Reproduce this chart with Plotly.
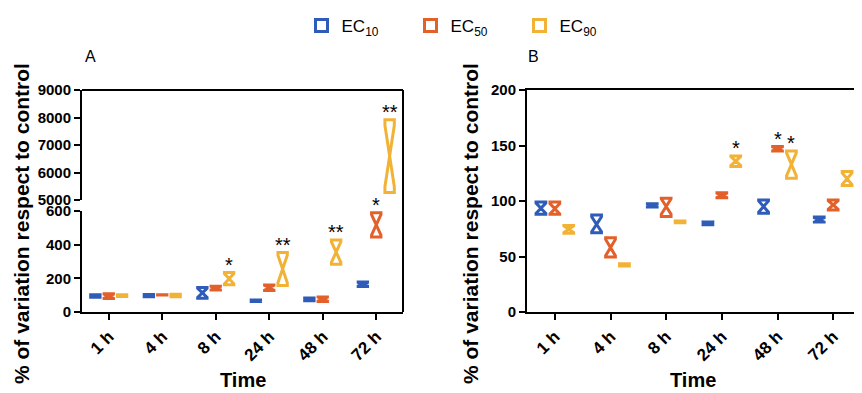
import plotly.graph_objects as go

# ---------------- data ----------------
times = ["1 h", "4 h", "8 h", "24 h", "48 h", "72 h"]
series_names = ["EC<sub>10</sub>", "EC<sub>50</sub>", "EC<sub>90</sub>"]
colors = ["#2E5CB8", "#E4602B", "#F2B236"]

# Panel A (% of variation respect to control)
A_ec10_q1 = [88, 90, 82, 63, 67, 152]
A_ec10_med = [95, 97, 114, 67, 74, 165]
A_ec10_q3 = [103, 104, 146, 71, 83, 178]

A_ec50_q1 = [80, 101, 130, 127, 62, 445]
A_ec50_med = [94, 102, 142, 144, 76, 518]
A_ec50_q3 = [108, 103, 153, 161, 89, 590]

A_ec90_q1 = [92, 90, 162, 158, 283, 5270]
A_ec90_med = [98, 98, 198, 255, 356, 6600]
A_ec90_q3 = [103, 105, 234, 353, 428, 7915]

# Panel B
B_ec10_q1 = [88, 71.5, 94.5, 78.5, 89, 81]
B_ec10_med = [93.5, 79, 96, 80, 95, 83]
B_ec10_q3 = [99, 87.5, 97.5, 81, 101, 85.5]

B_ec50_q1 = [88, 49.5, 86, 103, 145, 92]
B_ec50_med = [93, 58, 95, 105, 147, 96.5]
B_ec50_q3 = [99, 67, 102.5, 107.5, 149, 101]

B_ec90_q1 = [71, 41.5, 80.5, 131, 120.5, 114]
B_ec90_med = [74.5, 42.5, 81.3, 136, 133, 120]
B_ec90_q3 = [78, 43.5, 82, 140.5, 145, 126.5]

# significance marks: (category index, series index, label)
A_marks = [(2, 2, "*"), (3, 2, "**"), (4, 2, "**"), (5, 1, "*"), (5, 2, "**")]
B_marks = [(3, 2, "*"), (4, 1, "*"), (4, 2, "*")]

A_tick_low = [0, 200, 400, 600]
A_tick_high = [5000, 6000, 7000, 8000, 9000]
B_ticks = [0, 50, 100, 150, 200]

# ---------------- figure ----------------
A_series = [(A_ec10_q1, A_ec10_med, A_ec10_q3),
            (A_ec50_q1, A_ec50_med, A_ec50_q3),
            (A_ec90_q1, A_ec90_med, A_ec90_q3)]
B_series = [(B_ec10_q1, B_ec10_med, B_ec10_q3),
            (B_ec50_q1, B_ec50_med, B_ec50_q3),
            (B_ec90_q1, B_ec90_med, B_ec90_q3)]

fig = go.Figure()
LW = 3


def add_boxes(series, xa, ya, legend):
    for i, (q1, med, q3) in enumerate(series):
        fig.add_trace(go.Box(
            x=times, q1=q1, median=med, q3=q3,
            lowerfence=q1, upperfence=q3,
            notched=True, notchwidth=0.5,
            notchspan=[(b - a) * 0.42 for a, b in zip(q1, q3)],
            name=series_names[i], legendgroup=str(i), showlegend=legend,
            offsetgroup=str(i),
            line=dict(color=colors[i], width=LW), fillcolor="white",
            whiskerwidth=0, boxpoints=False,
            xaxis=xa, yaxis=ya, hoverinfo="skip",
        ))


add_boxes(A_series, "x", "y", True)
add_boxes(A_series, "x2", "y2", False)
add_boxes(B_series, "x3", "y3", False)

# page offset (body margin) compensation: figure drawn from (8, 8)
OFF = 8
W, H = 862 - OFF, 393 - OFF


def px(X):
    return (X - OFF) / W


def py(Y):
    return 1 - (Y - OFF) / H


xa_dom = [px(82), px(403)]
xb_dom = [px(527), px(861)]
y_low = [py(312), py(211)]
y_high = [py(200), py(90)]
y_b = [py(312), py(90)]

tickfont_y = dict(family="Liberation Sans", size=15, color="black", weight="bold")
tickfont_x = dict(family="Liberation Sans", size=17, color="black", weight="bold")
axis_common = dict(showline=True, linewidth=2, linecolor="black", ticks="outside",
                   tickwidth=2, ticklen=6, tickcolor="black", showgrid=False,
                   zeroline=False, automargin=False)

fig.update_layout(
    width=W, height=H, margin=dict(l=0, r=0, t=0, b=0, autoexpand=False),
    plot_bgcolor="white", paper_bgcolor="white",
    boxmode="group", boxgap=0.25, boxgroupgap=0.3,
    font=dict(family="Liberation Sans", color="black"),
    legend=dict(orientation="h", x=px(465), xanchor="center", y=1.0, yanchor="top",
                font=dict(size=17, family="Liberation Sans"),
                entrywidth=64, entrywidthmode="pixels", itemclick=False),
    xaxis=dict(domain=xa_dom, anchor="y", type="category", categoryorder="array",
               categoryarray=times, range=[-0.5, 5.5], tickangle=-45,
               tickfont=tickfont_x, **axis_common),
    yaxis=dict(domain=y_low, anchor="x", range=[0, 600], tickvals=A_tick_low,
               tickfont=tickfont_y, **axis_common),
    xaxis2=dict(domain=xa_dom, anchor="y2", matches="x", visible=False,
                type="category", categoryorder="array", categoryarray=times),
    yaxis2=dict(domain=y_high, anchor="x2", range=[5000, 9000], tickvals=A_tick_high,
                tickfont=tickfont_y, **axis_common),
    xaxis3=dict(domain=xb_dom, anchor="y3", type="category", categoryorder="array",
                categoryarray=times, range=[-0.5, 5.5], tickangle=-45, mirror=True,
                tickfont=tickfont_x, **axis_common),
    yaxis3=dict(domain=y_b, anchor="x3", range=[0, 200], tickvals=B_ticks, mirror=True,
                tickfont=tickfont_y, **axis_common),
)

# frame lines for panel A (top and right, continuous across the break)
fig.add_shape(type="line", xref="paper", yref="paper", x0=xa_dom[0], x1=xa_dom[1],
              y0=y_high[1], y1=y_high[1], line=dict(color="black", width=2))
fig.add_shape(type="line", xref="paper", yref="paper", x0=xa_dom[1], x1=xa_dom[1],
              y0=y_low[0], y1=y_high[1], line=dict(color="black", width=2))

# significance stars
slot = (1 - 0.25) / 3
for ci, si, lab in A_marks:
    yv = A_series[si][2][ci]
    yref = "y2" if yv > 600 else "y"
    fig.add_annotation(x=ci + (si - 1) * slot, y=yv, xref="x", yref=yref, text=lab,
                       showarrow=False, yanchor="bottom", yshift=-5,
                       font=dict(size=20, color="black"))
for ci, si, lab in B_marks:
    yv = B_series[si][2][ci]
    fig.add_annotation(x=ci + (si - 1) * slot, y=yv, xref="x3", yref="y3", text=lab,
                       showarrow=False, yanchor="bottom", yshift=-5,
                       font=dict(size=20, color="black"))

# panel letters and axis titles
title_font = dict(family="Liberation Sans", size=21, color="black", weight="bold")
time_font = dict(family="Liberation Sans", size=20, color="black", weight="bold")
for txt, X, Y in [("A", 90, 57), ("B", 533, 57)]:
    fig.add_annotation(text=txt, x=px(X), y=py(Y), xref="paper", yref="paper",
                       xanchor="center", yanchor="middle", showarrow=False,
                       font=dict(size=16, color="black"))
ytitle = "% of variation respect to control"
for X in (21, 470):
    fig.add_annotation(text=ytitle, textangle=-90, x=px(X), y=py(224), xref="paper",
                       yref="paper", xanchor="center", yanchor="middle",
                       showarrow=False, font=title_font)
for X in (243, 693):
    fig.add_annotation(text="Time", x=px(X), y=py(380), xref="paper", yref="paper",
                       xanchor="center", yanchor="middle", showarrow=False,
                       font=time_font)

fig.write_html("out.html")
